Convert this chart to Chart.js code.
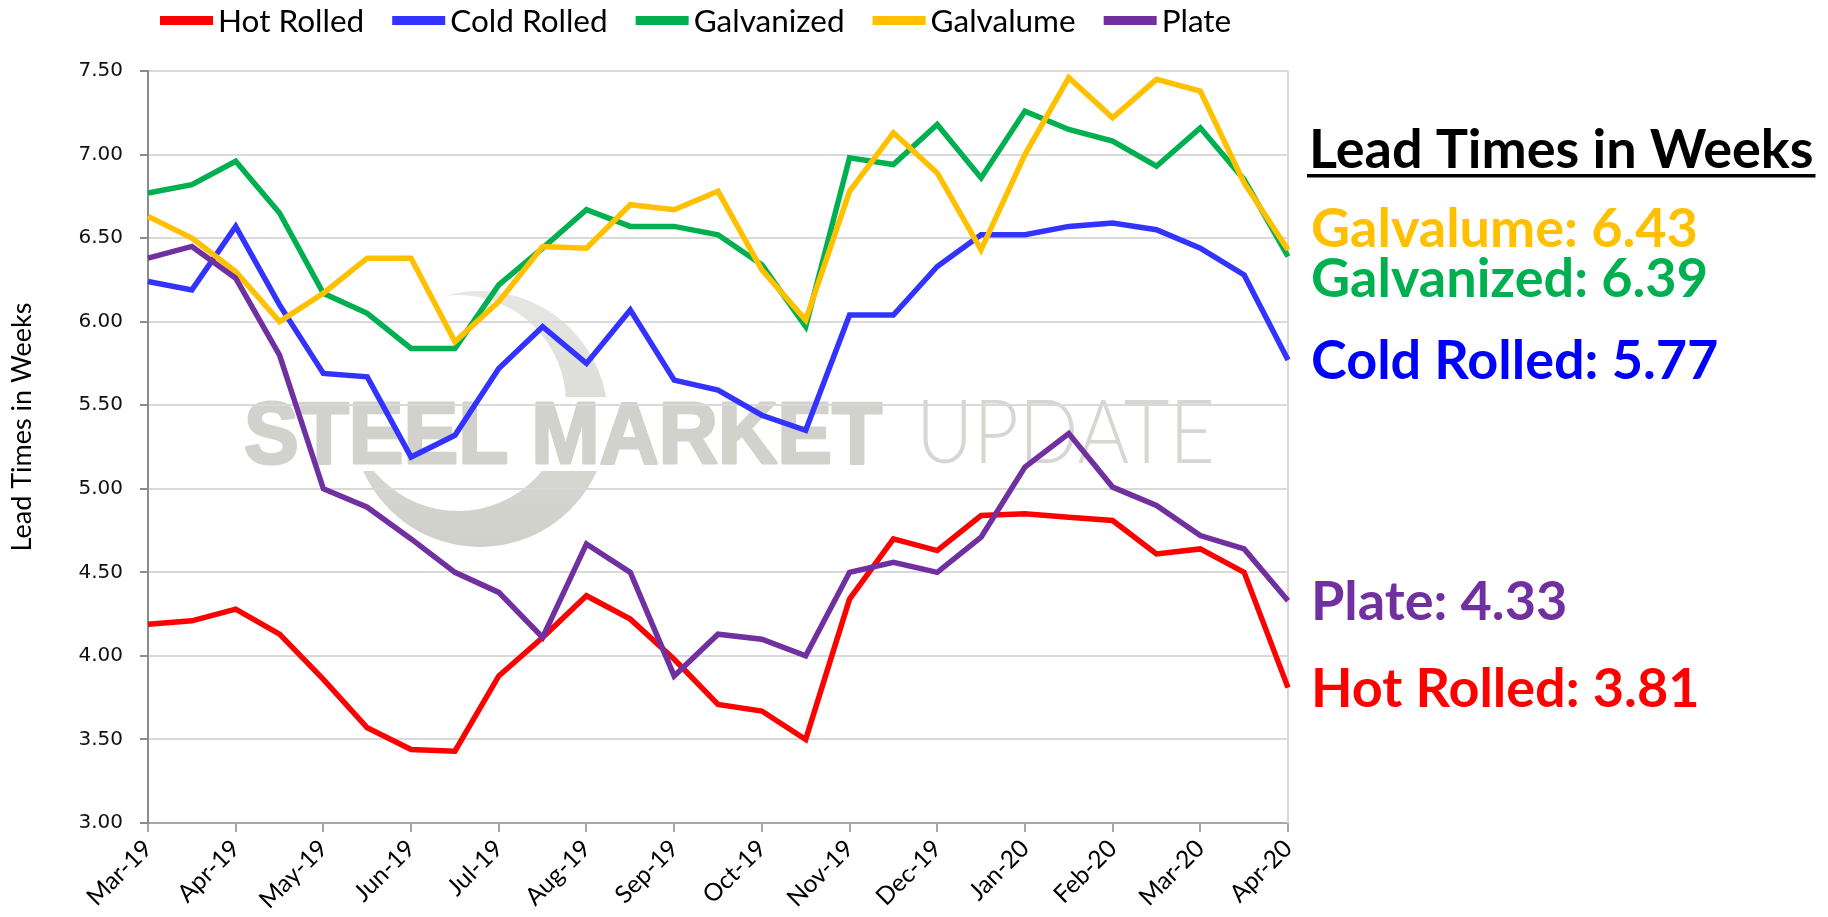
<!DOCTYPE html>
<html>
<head>
<meta charset="utf-8">
<title>Lead Times in Weeks</title>
<script src="https://cdn.jsdelivr.net/npm/chart.js@4.4.1/dist/chart.umd.min.js"></script>
<style>
  html, body { margin: 0; padding: 0; background: #fff; }
  canvas { display: block; }
</style>
</head>
<body>
<canvas id="leadChart" width="1828" height="917"></canvas>
<script>
// month ticks; the survey runs twice a month, so every other point is mid-month
const tickLabels = ["Mar-19", "Apr-19", "May-19", "Jun-19", "Jul-19", "Aug-19", "Sep-19",
  "Oct-19", "Nov-19", "Dec-19", "Jan-20", "Feb-20", "Mar-20", "Apr-20"];

const hotRolled = [4.19, 4.21, 4.28, 4.13, 3.86, 3.57, 3.44, 3.43, 3.88, 4.11, 4.36, 4.22, 3.98, 3.71,
  3.67, 3.50, 4.34, 4.70, 4.63, 4.84, 4.85, 4.83, 4.81, 4.61, 4.64, 4.50, 3.81];
const coldRolled = [6.24, 6.19, 6.57, 6.10, 5.69, 5.67, 5.19, 5.32, 5.72, 5.97, 5.75, 6.07, 5.65, 5.59,
  5.44, 5.35, 6.04, 6.04, 6.33, 6.52, 6.52, 6.57, 6.59, 6.55, 6.44, 6.28, 5.77];
const galvanized = [6.77, 6.82, 6.96, 6.65, 6.17, 6.05, 5.84, 5.84, 6.22, 6.44, 6.67, 6.57, 6.57, 6.52,
  6.34, 5.97, 6.98, 6.94, 7.18, 6.86, 7.26, 7.15, 7.08, 6.93, 7.16, 6.85, 6.39];
const galvalume = [6.63, 6.50, 6.30, 6.00, 6.17, 6.38, 6.38, 5.88, 6.12, 6.45, 6.44, 6.70, 6.67, 6.78,
  6.31, 6.01, 6.78, 7.13, 6.89, 6.43, 7.00, 7.46, 7.22, 7.45, 7.38, 6.83, 6.43];
const plate = [6.38, 6.45, 6.26, 5.80, 5.00, 4.89, 4.70, 4.50, 4.38, 4.11, 4.67, 4.50, 3.88, 4.13,
  4.10, 4.00, 4.50, 4.56, 4.50, 4.71, 5.13, 5.33, 5.01, 4.90, 4.72, 4.64, 4.33];

const seriesNames = ["Hot Rolled", "Cold Rolled", "Galvanized", "Galvalume", "Plate"];
const seriesData = [hotRolled, coldRolled, galvanized, galvalume, plate];
const lineColors = ["#ff0000", "#3333ff", "#00b050", "#ffc000", "#7030a0"];
const labelColors = ["#ff0000", "#0000ff", "#00b050", "#ffc000", "#7030a0"];

// one category per survey point, blank for the mid-month ones
const categories = [];
tickLabels.forEach((m, i) => {
  categories.push(m);
  if (i < tickLabels.length - 1) categories.push("");
});

const background = {
  id: "background",
  beforeDraw(chart) {
    const ctx = chart.ctx;
    ctx.save();
    ctx.fillStyle = "#fff";
    ctx.fillRect(0, 0, chart.width, chart.height);
    ctx.restore();
  }
};

// faint logo behind the grid
const watermark = {
  id: "watermark",
  beforeDraw(chart) {
    const ctx = chart.ctx;
    const a = chart.chartArea;
    const cx = a.left + 332, cy = a.top + 348, r = 128;
    ctx.save();

    const grad = ctx.createLinearGradient(0, cy - r, 0, cy + r);
    grad.addColorStop(0, "#e6e6e3");
    grad.addColorStop(1, "#d0d0ca");
    ctx.beginPath();
    ctx.arc(cx, cy, r, 0, Math.PI * 2);
    ctx.clip();
    ctx.beginPath();
    ctx.rect(cx - r - 2, cy - r - 2, 2 * r + 4, 2 * r + 4);
    ctx.arc(cx - 22, cy - 16, 108, 0, Math.PI * 2);
    ctx.fillStyle = grad;
    ctx.fill("evenodd");
    ctx.restore();

    ctx.save();
    ctx.fillStyle = "#fff";
    ctx.fillRect(a.left + 80, a.top + 326, 1000, 74);
    const base = a.top + 392;
    ctx.textBaseline = "alphabetic";
    ctx.fillStyle = "#d2d2cd";
    ctx.strokeStyle = "#d2d2cd";
    ctx.lineWidth = 3;
    ctx.lineJoin = "round";
    ctx.font = "bold 88px 'Liberation Sans', Arial, sans-serif";
    ctx.fillText("STEEL MARKET", a.left + 96, base, 638);
    ctx.strokeText("STEEL MARKET", a.left + 96, base, 638);
    ctx.fillStyle = "#d6d6d2";
    ctx.font = "300 88px Lato, sans-serif";
    ctx.fillText("UPDATE", a.left + 768, base, 299);
    ctx.restore();
  }
};

const plotBorder = {
  id: "plotBorder",
  beforeDatasetsDraw(chart) {
    const ctx = chart.ctx;
    const a = chart.chartArea;
    ctx.save();
    ctx.strokeStyle = "#d9d9d9";
    ctx.lineWidth = 2;
    ctx.beginPath();
    ctx.moveTo(a.right, a.top);
    ctx.lineTo(a.right, a.bottom);
    ctx.stroke();
    ctx.restore();
  }
};

// vertical axis title, sitting a little above the middle of the axis
const axisTitle = {
  id: "axisTitle",
  afterDraw(chart) {
    const ctx = chart.ctx;
    const a = chart.chartArea;
    ctx.save();
    ctx.translate(22, (a.top + a.bottom) / 2 - 20);
    ctx.rotate(-Math.PI / 2);
    ctx.font = "27px Lato, sans-serif";
    ctx.fillStyle = "#000";
    ctx.textAlign = "center";
    ctx.textBaseline = "middle";
    ctx.fillText("Lead Times in Weeks", 0, 0);
    ctx.restore();
  }
};

const topLegend = {
  id: "topLegend",
  afterDraw(chart) {
    const ctx = chart.ctx;
    ctx.save();
    ctx.font = "31.5px Lato, sans-serif";
    ctx.textBaseline = "alphabetic";
    let x = 160;
    chart.data.datasets.forEach(ds => {
      ctx.fillStyle = ds.borderColor;
      ctx.fillRect(x, 16, 53, 9);
      x += 58;
      ctx.fillStyle = "#000";
      ctx.fillText(ds.label, x, 32);
      x += ctx.measureText(ds.label).width + 28;
    });
    ctx.restore();
  }
};

// heading plus a value label at the end of each series
const endLabels = {
  id: "endLabels",
  afterDraw(chart) {
    const ctx = chart.ctx;
    const yScale = chart.scales.y;
    const x = chart.chartArea.right + 23;
    ctx.save();
    ctx.textBaseline = "alphabetic";
    ctx.font = "bold 54px Lato, sans-serif";
    ctx.fillStyle = "#000";
    const heading = "Lead Times in Weeks";
    ctx.fillText(heading, x - 2, 168, 505);
    const w = Math.min(ctx.measureText(heading).width, 505);
    ctx.fillRect(x - 4, 174, w + 4, 3.5);

    const items = chart.data.datasets.map((ds, i) => {
      const last = ds.data[ds.data.length - 1];
      return {
        text: ds.label + ": " + last.toFixed(2),
        color: labelColors[i],
        y: yScale.getPixelForValue(last)
      };
    }).sort((p, q) => p.y - q.y);

    // push apart labels that would overlap
    const gap = 50;
    for (let pass = 0; pass < 10; pass++) {
      for (let i = 1; i < items.length; i++) {
        const d = items[i].y - items[i - 1].y;
        if (d < gap) {
          const push = (gap - d) / 2;
          items[i - 1].y -= push;
          items[i].y += push;
        }
      }
    }
    items.forEach(it => {
      ctx.fillStyle = it.color;
      ctx.fillText(it.text, x, it.y + 19);
    });
    ctx.restore();
  }
};

const datasets = seriesNames.map((name, i) => ({
  label: name,
  data: seriesData[i],
  borderColor: lineColors[i],
  backgroundColor: lineColors[i],
  borderWidth: 5.5,
  pointRadius: 0,
  tension: 0,
  fill: false,
  order: seriesNames.length - i
}));

new Chart(document.getElementById("leadChart"), {
  type: "line",
  data: { labels: categories, datasets },
  options: {
    responsive: false,
    devicePixelRatio: 1,
    animation: false,
    layout: { padding: { top: 71, right: 540, bottom: 0, left: 0 } },
    plugins: {
      legend: { display: false },
      tooltip: { enabled: false }
    },
    scales: {
      x: {
        grid: {
          drawOnChartArea: false,
          lineWidth: 2,
          tickLength: 9,
          tickColor: c => (c.index % 2 ? "rgba(0,0,0,0)" : "#a6a6a6")
        },
        border: { color: "#a6a6a6", width: 2 },
        ticks: {
          autoSkip: false,
          maxRotation: 45,
          minRotation: 45,
          padding: 2,
          color: "#000",
          font: { family: "Lato, sans-serif", size: 24.5 },
          callback: (v, i) => categories[i]
        },
        afterFit: s => { s.height = 94; }
      },
      y: {
        min: 3,
        max: 7.5,
        ticks: {
          stepSize: 0.5,
          padding: 17,
          color: "#111",
          font: { family: "'DejaVu Sans', sans-serif", size: 20 },
          callback: v => v.toFixed(2)
        },
        grid: { color: "#d9d9d9", lineWidth: 2, tickLength: 8, tickColor: "#8c8c8c" },
        border: { color: "#8c8c8c", width: 2 },
        afterFit: s => { s.width = 148; }
      }
    }
  },
  plugins: [background, watermark, plotBorder, axisTitle, topLegend, endLabels]
});
</script>
</body>
</html>
